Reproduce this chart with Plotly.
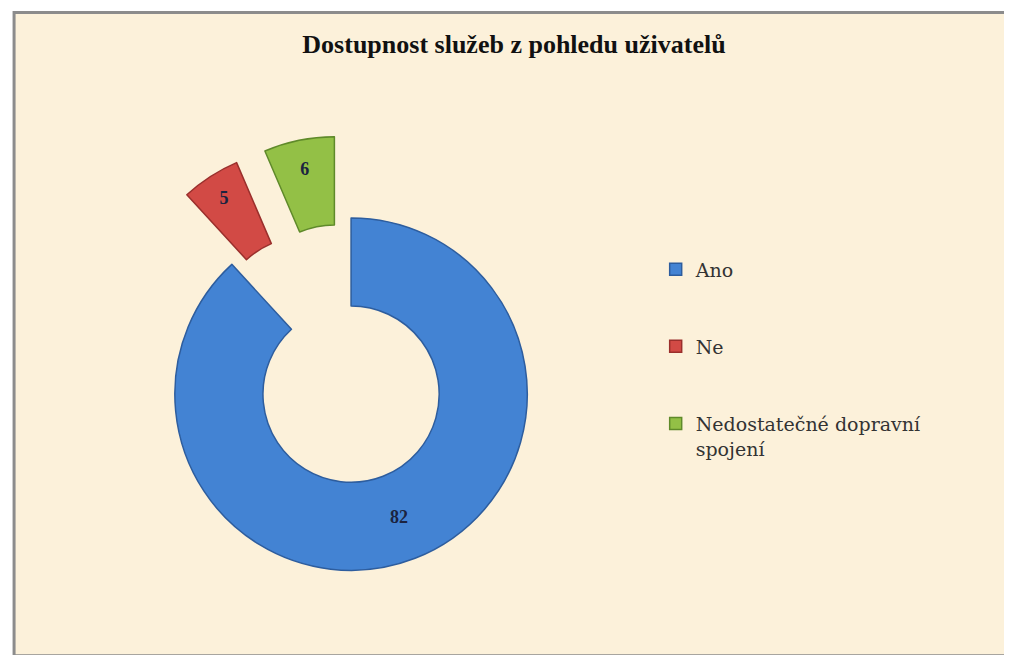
import plotly.graph_objects as go

# data
kategorie = ["Ano", "Ne", "Nedostatečné dopravní<br>spojení"]
hodnoty = [82, 5, 6]
vytazeni = [0, 0.47, 0.47]
barvy = ["#4383d3", "#d24a45", "#93c046"]
okraje = ["#2d5d9e", "#9a2f2c", "#5f8a2a"]

# legend text gets blank lines so items are spread out like the original
legenda = [k + "<br> <br> " if i < 2 else k for i, k in enumerate(kategorie)]

fig = go.Figure()

fig.add_trace(go.Pie(
    labels=legenda,
    values=hodnoty,
    hole=0.5,
    pull=vytazeni,
    sort=False,
    direction="clockwise",
    rotation=0,
    marker=dict(colors=barvy, line=dict(color=okraje, width=1.5)),
    texttemplate="<b>%{value}</b>",
    textposition="inside",
    insidetextorientation="auto",
    textfont=dict(family="Liberation Serif", size=18, color="#1b2340"),
    domain=dict(x=[0.083, 0.595], y=[0.015, 0.806]),
    hoverinfo="label+value",
))

fig.update_layout(
    width=1012,
    height=655,
    paper_bgcolor="white",
    margin=dict(l=0, r=0, t=0, b=0),
    title=dict(
        text="<b>Dostupnost služeb z pohledu uživatelů</b>",
        x=0.5, xanchor="center",
        y=0.945, yanchor="middle",
        font=dict(family="Liberation Serif", size=26, color="#111111"),
    ),
    legend=dict(
        x=0.64, xanchor="left",
        y=0.63, yanchor="top",
        valign="top",
        font=dict(family="DejaVu Serif", size=19, color="#333333"),
        bgcolor="rgba(0,0,0,0)",
        itemclick=False,
    ),
    shapes=[dict(
        type="rect", xref="paper", yref="paper",
        x0=0.006, x1=0.995, y0=0.011, y1=0.993,
        fillcolor="#fcf1da",
        line=dict(color="#8c8c8c", width=3),
        layer="below",
    )],
)

fig.write_html("out.html")
